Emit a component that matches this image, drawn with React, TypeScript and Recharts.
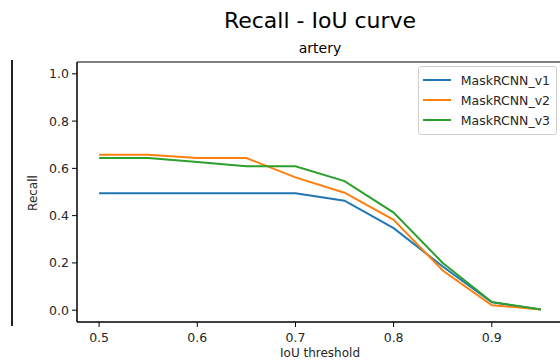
import { LineChart, Line, XAxis, YAxis, ReferenceArea } from 'recharts';

const thresholds = [0.5, 0.55, 0.6, 0.65, 0.7, 0.75, 0.8, 0.85, 0.9, 0.95];
const v1 = [0.495, 0.495, 0.495, 0.495, 0.495, 0.463, 0.347, 0.185, 0.033, 0.003];
const v2 = [0.658, 0.658, 0.644, 0.644, 0.562, 0.497, 0.382, 0.168, 0.021, 0.003];
const v3 = [0.644, 0.644, 0.627, 0.609, 0.609, 0.546, 0.413, 0.2, 0.035, 0.003];
const xTicks = [0.5, 0.6, 0.7, 0.8, 0.9];
const yTicks = [0, 0.2, 0.4, 0.6, 0.8, 1.0];

const series = [
  { key: 'v1', name: 'MaskRCNN_v1', color: '#1f77b4' },
  { key: 'v2', name: 'MaskRCNN_v2', color: '#ff7f0e' },
  { key: 'v3', name: 'MaskRCNN_v3', color: '#2ca02c' },
];

const data = thresholds.map((t, i) => ({ t, v1: v1[i], v2: v2[i], v3: v3[i] }));

const font = 'DejaVu Sans, sans-serif';
const tick = { fontSize: 12.5, fill: '#262626', fontFamily: font };

// legend drawn as an overlay so it takes no room from the plot
function LegendBox() {
  return (
    <div
      style={{
        position: 'absolute',
        left: 418,
        top: 66,
        width: 127,
        border: '1px solid #d0d0d0',
        borderRadius: 3,
        background: '#fff',
        padding: '3px 6px 4px 4px',
        fontFamily: font,
        fontSize: 12.5,
        color: '#262626',
      }}
    >
      {series.map((s) => (
        <div key={s.key} style={{ display: 'flex', alignItems: 'center', height: 20 }}>
          <span style={{ display: 'inline-block', width: 28, height: 2, background: s.color, marginRight: 10 }} />
          {s.name}
        </div>
      ))}
    </div>
  );
}

export default function App() {
  return (
    <div style={{ position: 'absolute', left: 0, top: 0, width: 560, height: 360, overflow: 'hidden', background: '#fff' }}>
      <div style={{ position: 'absolute', left: 0, width: 640, top: 8, textAlign: 'center', fontFamily: font, fontSize: 22, color: '#000' }}>
        Recall - IoU curve
      </div>
      <div style={{ position: 'absolute', left: 0, width: 640, top: 40, textAlign: 'center', fontFamily: font, fontSize: 14, color: '#000' }}>
        artery
      </div>
      <div style={{ position: 'absolute', left: 11, top: 60, width: 1.5, height: 266, background: '#222' }} />
      <div
        style={{
          position: 'absolute',
          left: 33,
          top: 193,
          transform: 'translate(-50%, -50%) rotate(-90deg)',
          fontFamily: font,
          fontSize: 12,
          color: '#262626',
          whiteSpace: 'nowrap',
        }}
      >
        Recall
      </div>
      <div
        style={{ position: 'absolute', left: 0, width: 640, top: 346, textAlign: 'center', fontFamily: font, fontSize: 12, color: '#262626' }}
      >
        IoU threshold
      </div>
      <LineChart width={563} height={360} data={data} margin={{ top: 62, right: 0, bottom: 0, left: 0 }}>
        <XAxis
          dataKey="t"
          type="number"
          domain={[0.4775, 0.9725]}
          ticks={xTicks}
          tickFormatter={(v) => v.toFixed(1)}
          tick={tick}
          tickSize={5}
          tickMargin={6}
          axisLine={{ stroke: '#000' }}
          tickLine={{ stroke: '#000' }}
          height={38}
          allowDataOverflow
        />
        <YAxis
          type="number"
          domain={[-0.05, 1.05]}
          ticks={yTicks}
          tickFormatter={(v) => v.toFixed(1)}
          tick={tick}
          tickSize={5}
          tickMargin={3}
          axisLine={{ stroke: '#000' }}
          tickLine={{ stroke: '#000' }}
          width={77}
          allowDataOverflow
        />
        <ReferenceArea x1={0.4775} x2={0.9725} y1={-0.05} y2={1.05} stroke="#000" fill="none" ifOverflow="visible" />
        {series.map((s) => (
          <Line
            key={s.key}
            dataKey={s.key}
            name={s.name}
            stroke={s.color}
            strokeWidth={2}
            dot={false}
            isAnimationActive={false}
          />
        ))}
      </LineChart>
      <LegendBox />
    </div>
  );
}
